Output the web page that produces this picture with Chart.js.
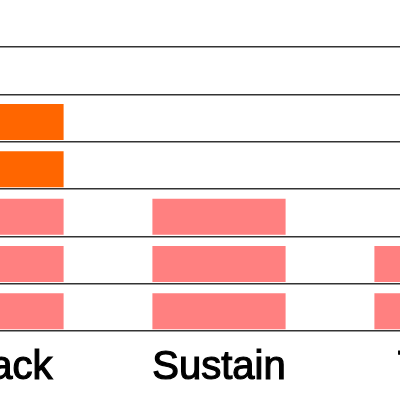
<!DOCTYPE html>
<html>
<head>
<meta charset="utf-8">
<script src="https://cdn.jsdelivr.net/npm/chart.js@4"></script>
<style>
  html, body { margin: 0; padding: 0; background: #fff; overflow: hidden; }
  #wrap { position: absolute; left: -114px; top: 0; }
</style>
</head>
<body>
<div id="wrap"><canvas id="chart" width="666" height="400"></canvas></div>
<script>
// blocks stacked per column, counted from the bottom
const categories = ["Attack", "Sustain", "Tone"];
const pinkBlocks = [3, 3, 2];
const orangeBlocks = [2, 0, 0];
const yTicks = [0, 1, 2, 3, 4, 5, 6];

const PINK = "#FF8080";
const ORANGE = "#FF6600";

// one dataset per level, each block a floating bar inside its row
const levels = Math.max(...pinkBlocks.map((p, i) => p + orangeBlocks[i]));
const datasets = [];
for (let k = 0; k < levels; k++) {
    datasets.push({
        data: categories.map((c, i) => k < pinkBlocks[i] + orangeBlocks[i] ? [k + 0.035, k + 0.795] : null),
        backgroundColor: categories.map((c, i) => k < pinkBlocks[i] ? PINK : ORANGE),
        borderWidth: 0,
        grouped: false,
        categoryPercentage: 0.6,
        barPercentage: 1,
    });
}

new Chart(document.getElementById("chart").getContext("2d"), {
    type: "bar",
    data: { labels: categories, datasets: datasets },
    options: {
        responsive: false,
        animation: false,
        layout: { padding: { top: 47, bottom: 0, left: 0, right: 0 } },
        plugins: { legend: { display: false }, tooltip: { enabled: false } },
        scales: {
            x: {
                grid: { display: false },
                border: { display: false },
                afterFit: (axis) => { axis.height = 69; },
                ticks: {
                    padding: 5,
                    color: "#000",
                    textStrokeColor: "#000",
                    textStrokeWidth: 1.2,
                    font: { family: "'Liberation Sans', Arial, sans-serif", size: 40, lineHeight: 1.2 },
                },
            },
            y: {
                min: yTicks[0],
                max: yTicks[yTicks.length - 1],
                afterBuildTicks: (axis) => { axis.ticks = yTicks.map(v => ({ value: v })); },
                afterFit: (axis) => { axis.width = 0; },
                ticks: { display: false },
                border: { display: false },
                grid: { color: "#333", lineWidth: 1.5, drawTicks: false },
            },
        },
    },
});
</script>
</body>
</html>
